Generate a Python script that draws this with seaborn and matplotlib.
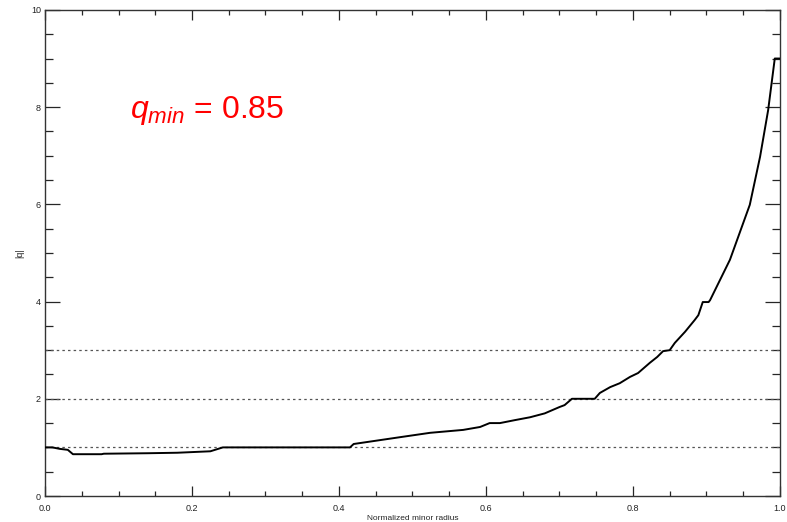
import numpy as np
import pandas as pd
import matplotlib
matplotlib.use("Agg")
import matplotlib.pyplot as plt
from matplotlib.ticker import MultipleLocator
import seaborn as sns

# q-profile
radius = [0.0, 0.01, 0.02, 0.031, 0.038, 0.077, 0.08, 0.14, 0.18, 0.225, 0.242,
          0.415, 0.42, 0.483, 0.524, 0.569, 0.592, 0.605, 0.619, 0.639, 0.66,
          0.68, 0.70, 0.707, 0.717, 0.748, 0.755, 0.769, 0.782, 0.796, 0.807,
          0.823, 0.833, 0.841, 0.850, 0.857, 0.871, 0.884, 0.889, 0.895, 0.903,
          0.905, 0.932, 0.959, 0.973, 0.984, 0.993, 1.0]
q_abs = [1.0, 1.0, 0.97, 0.95, 0.86, 0.86, 0.87, 0.88, 0.89, 0.92, 1.0,
         1.0, 1.07, 1.21, 1.30, 1.36, 1.42, 1.50, 1.50, 1.56, 1.62,
         1.70, 1.83, 1.87, 2.0, 2.0, 2.12, 2.24, 2.32, 2.45, 2.53,
         2.74, 2.86, 2.98, 3.0, 3.15, 3.38, 3.62, 3.72, 3.99, 3.99,
         4.03, 4.86, 5.99, 6.98, 7.94, 9.0, 9.0]
rational_q = [1, 2, 3]
x_ticks = [0.0, 0.2, 0.4, 0.6, 0.8, 1.0]
y_ticks = [0, 2, 4, 6, 8, 10]
q_min = 0.85

sns.set_style("ticks")
plt.rcParams['font.family'] = ['Liberation Sans', 'DejaVu Sans']
plt.rcParams['mathtext.fontset'] = 'custom'
plt.rcParams['mathtext.it'] = 'Liberation Sans:italic'
plt.rcParams['mathtext.rm'] = 'Liberation Sans'

df = pd.DataFrame({"r": radius, "q": q_abs})

fig = plt.figure(figsize=(7.87, 5.22), dpi=100)
ax = fig.add_axes([0.0572, 0.0498, 0.9338, 0.9312])

for q in rational_q:
    ax.axhline(q, color="#555555", lw=0.9, ls=(0, (2, 2.5)), zorder=1)

sns.lineplot(data=df, x="r", y="q", sort=False, estimator=None,
             color="black", lw=1.4, ax=ax, zorder=3)

ax.text(0.116, 7.78, r"$q_{min}$ = %.2f" % q_min, color="red",
        fontsize=23, va="baseline", ha="left")

ax.set_xlim(0, 1)
ax.set_ylim(0, 10)
ax.set_xticks(x_ticks)
ax.set_xticklabels(["%.1f" % t for t in x_ticks])
ax.set_yticks(y_ticks)
ax.set_yticklabels([str(t) for t in y_ticks])
ax.xaxis.set_minor_locator(MultipleLocator(0.05))
ax.yaxis.set_minor_locator(MultipleLocator(0.5))

ax.tick_params(axis="x", which="major", direction="in", top=True, bottom=True,
               length=7, width=0.9, labelsize=6.5, pad=6, labelcolor="#222222")
ax.tick_params(axis="x", which="minor", direction="in", top=True, bottom=True,
               length=3.5, width=0.9)
ax.tick_params(axis="y", which="major", direction="in", left=True, right=True,
               length=11, width=0.9, labelsize=6.5, pad=3, labelcolor="#222222")
ax.tick_params(axis="y", which="minor", direction="in", left=True, right=True,
               length=5.5, width=0.9)
for s in ax.spines.values():
    s.set_visible(True)
    s.set_linewidth(1.0)
    s.set_color("#333333")

ax.set_xlabel("Normalized minor radius", fontsize=6)
ax.set_ylabel("|q|", fontsize=6.5)
ax.xaxis.set_label_coords(0.5, -0.04)
ax.yaxis.set_label_coords(-0.028, 0.5)

fig.savefig("out.png", dpi=100)
